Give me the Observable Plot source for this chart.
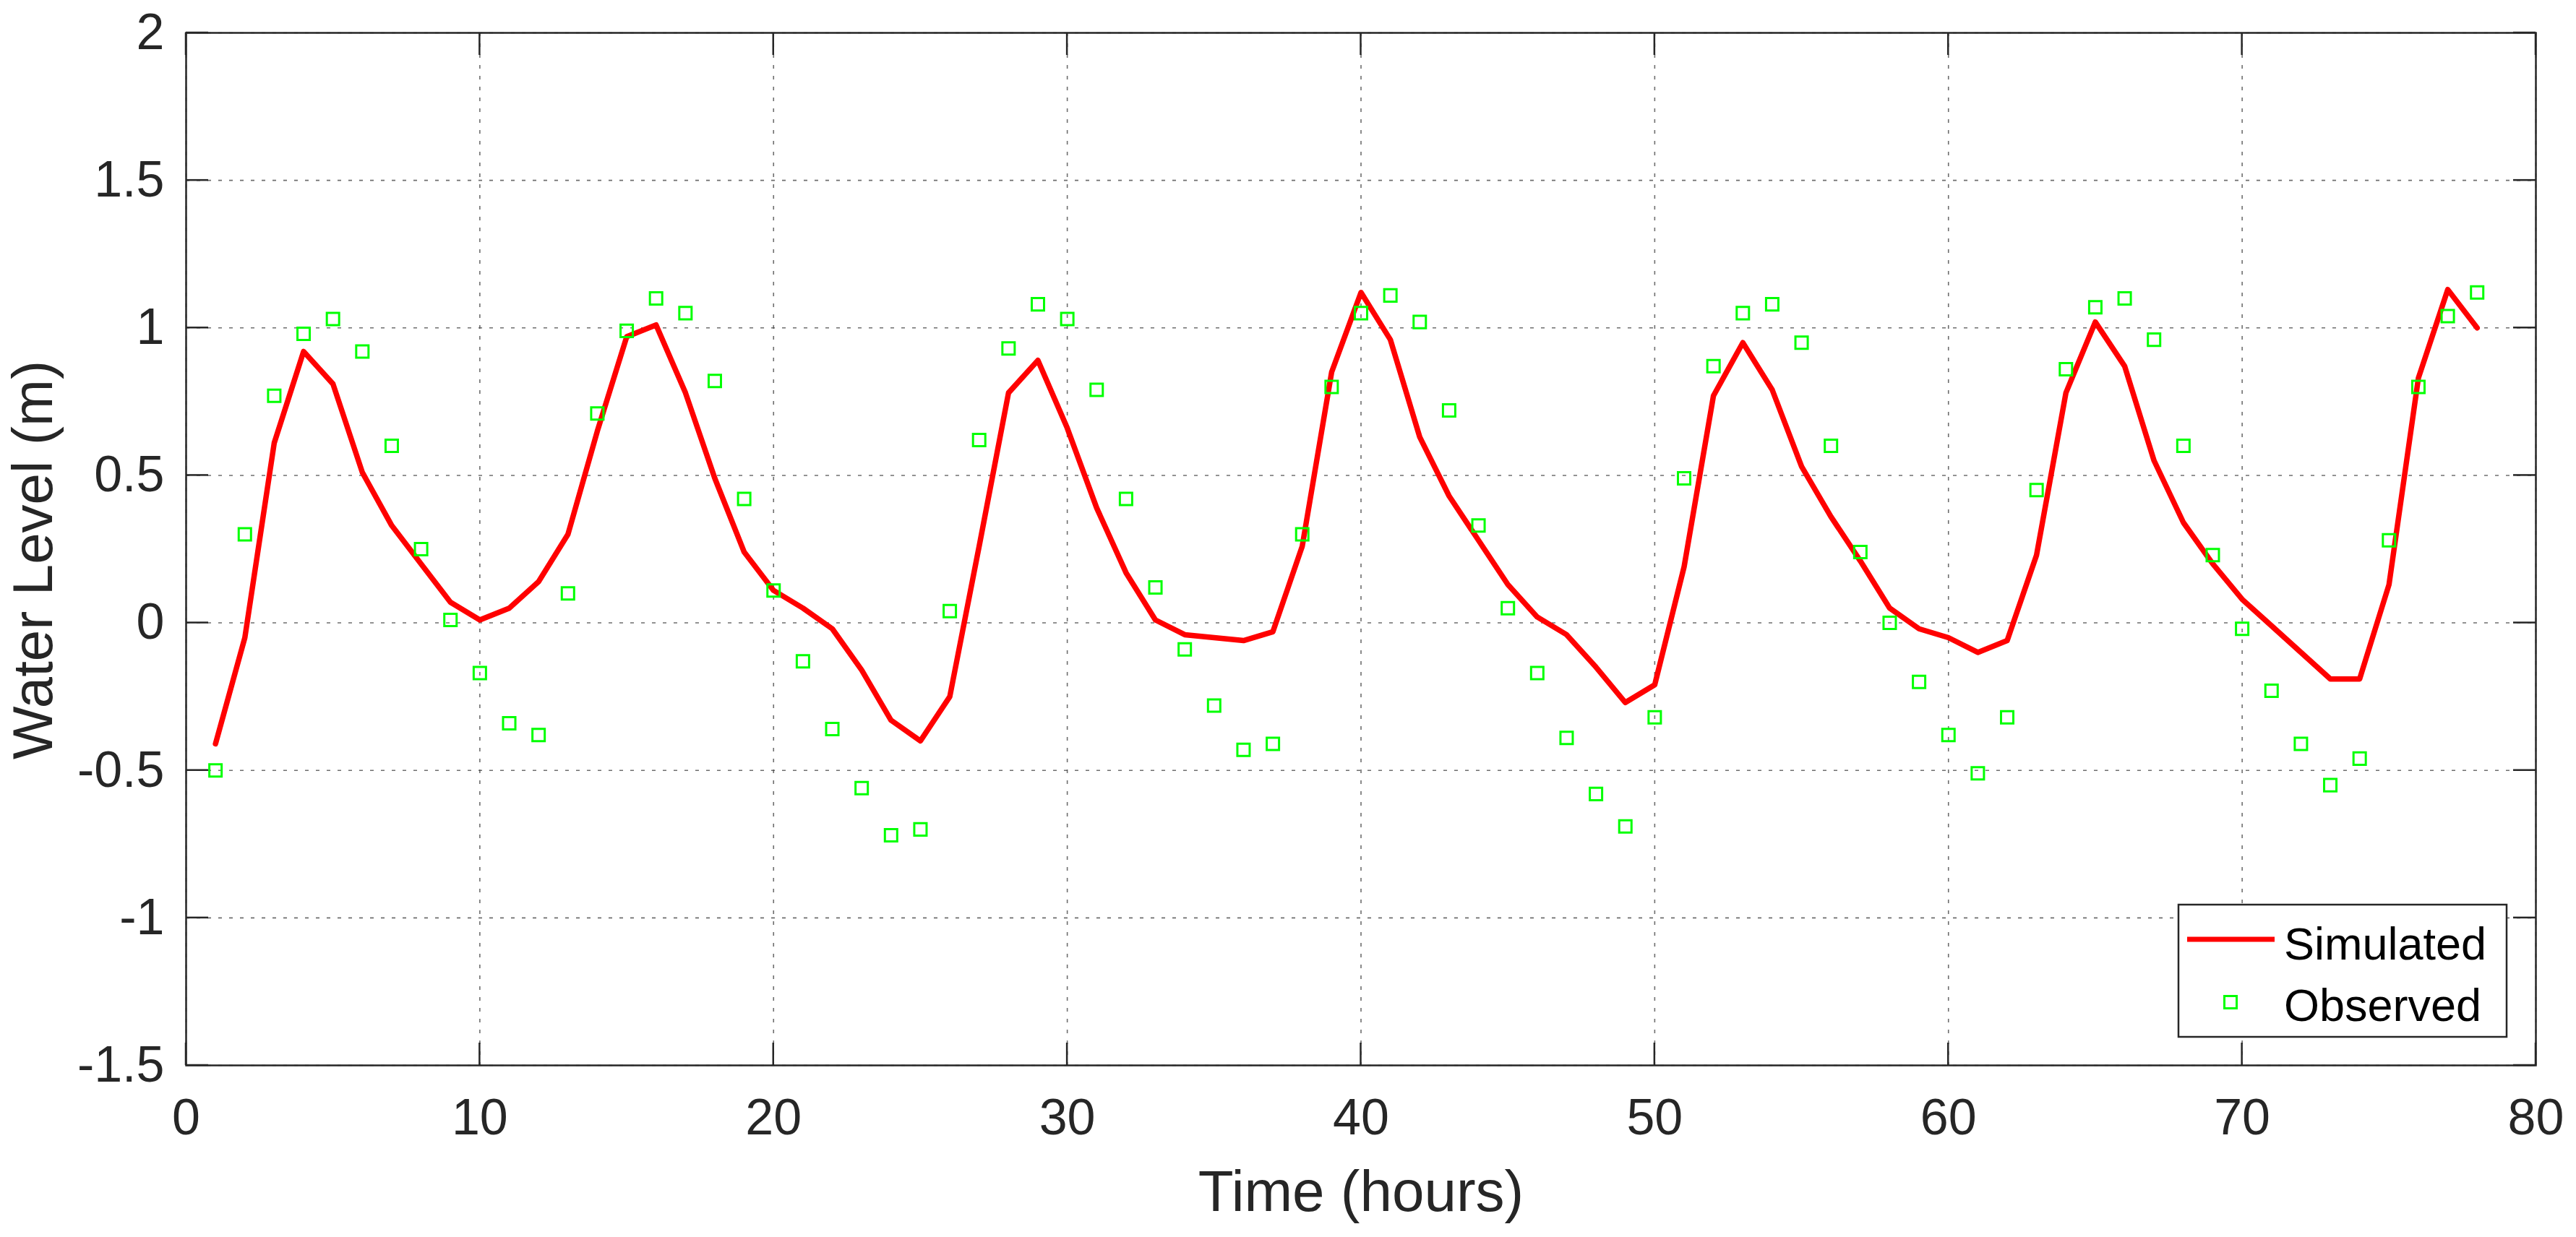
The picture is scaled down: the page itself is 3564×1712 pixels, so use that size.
<!DOCTYPE html>
<html>
<head>
<meta charset="utf-8">
<script src="https://cdn.jsdelivr.net/npm/d3@7"></script>
<script src="https://cdn.jsdelivr.net/npm/@observablehq/plot@0.6"></script>
<style>
  html, body { margin: 0; padding: 0; background: #ffffff; }
  #chart { width: 3564px; height: 1712px; }
</style>
</head>
<body>
<div id="chart"></div>
<script>
// ---- Data ----
const hours = [1,2,3,4,5,6,7,8,9,10,11,12,13,14,15,16,17,18,19,20,
  21,22,23,24,25,26,27,28,29,30,31,32,33,34,35,36,37,38,39,40,
  41,42,43,44,45,46,47,48,49,50,51,52,53,54,55,56,57,58,59,60,
  61,62,63,64,65,66,67,68,69,70,71,72,73,74,75,76,77,78];

const simulated = [-0.41,-0.05,0.61,0.92,0.81,0.51,0.33,0.20,0.07,0.01,
  0.05,0.14,0.30,0.65,0.97,1.01,0.78,0.49,0.24,0.11,
  0.05,-0.02,-0.16,-0.33,-0.40,-0.25,0.26,0.78,0.89,0.66,
  0.39,0.17,0.01,-0.04,-0.05,-0.06,-0.03,0.26,0.85,1.12,
  0.96,0.63,0.43,0.28,0.13,0.02,-0.04,-0.15,-0.27,-0.21,
  0.19,0.77,0.95,0.79,0.53,0.36,0.21,0.05,-0.02,-0.05,
  -0.10,-0.06,0.23,0.78,1.02,0.87,0.55,0.34,0.20,0.08,
  -0.01,-0.10,-0.19,-0.19,0.13,0.83,1.13,1.00];

const observed = [-0.50,0.30,0.77,0.98,1.03,0.92,0.60,0.25,0.01,-0.17,
  -0.34,-0.38,0.10,0.71,0.99,1.10,1.05,0.82,0.42,0.11,
  -0.13,-0.36,-0.56,-0.72,-0.70,0.04,0.62,0.93,1.08,1.03,
  0.79,0.42,0.12,-0.09,-0.28,-0.43,-0.41,0.30,0.80,1.05,
  1.11,1.02,0.72,0.33,0.05,-0.17,-0.39,-0.58,-0.69,-0.32,
  0.49,0.87,1.05,1.08,0.95,0.60,0.24,0.00,-0.20,-0.38,
  -0.51,-0.32,0.45,0.86,1.07,1.10,0.96,0.60,0.23,-0.02,
  -0.23,-0.41,-0.55,-0.46,0.28,0.80,1.04,1.12];

const xTicks = [0,10,20,30,40,50,60,70,80];
const yTicks = [-1.5,-1,-0.5,0,0.5,1,1.5,2];
const xDomain = [0, 80];
const yDomain = [-1.5, 2];
const xLabel = "Time (hours)";
const yLabel = "Water Level (m)";
const seriesNames = ["Simulated", "Observed"];

// ---- Styles ----
const FONT = "'Liberation Sans', Arial, Helvetica, sans-serif";
const AXIS_COLOR = "#262626";
const GRID_COLOR = "#4a4a4a";
const RED = "#ff0000";
const GREEN = "#00ff00";
const TICK = 31;

const simData = hours.map((h, i) => ({hour: h, level: simulated[i]}));
const obsData = hours.map((h, i) => ({hour: h, level: observed[i]}));

// Inner ticks on all four sides (MATLAB box style), placed through the scales
function frameTicks(index, scales, values, dims) {
  const {x, y} = scales;
  const L = dims.marginLeft, R = dims.width - dims.marginRight;
  const T = dims.marginTop, B = dims.height - dims.marginBottom;
  const g = d3.create("svg:g")
    .attr("stroke", AXIS_COLOR)
    .attr("stroke-width", 2.5)
    .attr("fill", "none");
  for (const v of xTicks) {
    const px = x(v);
    g.append("line").attr("x1", px).attr("x2", px).attr("y1", B).attr("y2", B - TICK);
    g.append("line").attr("x1", px).attr("x2", px).attr("y1", T).attr("y2", T + TICK);
  }
  for (const v of yTicks) {
    const py = y(v);
    g.append("line").attr("x1", L).attr("x2", L + TICK).attr("y1", py).attr("y2", py);
    g.append("line").attr("x1", R).attr("x2", R - TICK).attr("y1", py).attr("y2", py);
  }
  return g.node();
}

// Legend box in the lower-right corner of the frame
function legend(index, scales, values, dims) {
  const R = dims.width - dims.marginRight;
  const B = dims.height - dims.marginBottom;
  const w = 454, h = 183;
  const left = R - 40 - w, top = B - 39 - h;
  const g = d3.create("svg:g");
  g.append("rect")
    .attr("x", left).attr("y", top).attr("width", w).attr("height", h)
    .attr("fill", "#ffffff").attr("stroke", AXIS_COLOR).attr("stroke-width", 2.5);
  g.append("line")
    .attr("x1", left + 12).attr("x2", left + 133)
    .attr("y1", top + 48).attr("y2", top + 48)
    .attr("stroke", RED).attr("stroke-width", 7);
  g.append("rect")
    .attr("x", left + 72 - 8.5).attr("y", top + 135 - 8.5)
    .attr("width", 17).attr("height", 17)
    .attr("fill", "none").attr("stroke", GREEN).attr("stroke-width", 3);
  g.append("text")
    .attr("x", left + 146).attr("y", top + 76)
    .attr("text-anchor", "start")
    .attr("font-size", 63).attr("font-family", FONT).attr("fill", "#000")
    .text(seriesNames[0]);
  g.append("text")
    .attr("x", left + 146).attr("y", top + 161)
    .attr("text-anchor", "start")
    .attr("font-size", 63).attr("font-family", FONT).attr("fill", "#000")
    .text(seriesNames[1]);
  return g.node();
}

const chart = Plot.plot({
  width: 3564,
  height: 1712,
  marginLeft: 257,
  marginRight: 56,
  marginTop: 45,
  marginBottom: 238,
  style: {background: "#ffffff", fontFamily: FONT, overflow: "visible"},
  x: {domain: xDomain, nice: false},
  y: {domain: yDomain, nice: false},
  marks: [
    Plot.gridX(xTicks, {stroke: GRID_COLOR, strokeOpacity: 0.8, strokeWidth: 1.6, strokeDasharray: "5,10"}),
    Plot.gridY(yTicks, {stroke: GRID_COLOR, strokeOpacity: 0.8, strokeWidth: 1.6, strokeDasharray: "5,10"}),
    Plot.line(simData, {x: "hour", y: "level", stroke: RED, strokeWidth: 7.5, strokeLinejoin: "round"}),
    Plot.dot(obsData, {x: "hour", y: "level", symbol: "square", r: 9.6, stroke: GREEN, strokeWidth: 3, fill: "none"}),
    Plot.frame({stroke: AXIS_COLOR, strokeWidth: 2.5}),
    frameTicks,
    Plot.axisX(xTicks, {anchor: "bottom", tickSize: 0, tickPadding: 46, fontSize: 70, color: AXIS_COLOR, label: null, tickFormat: d => String(d)}),
    Plot.axisY(yTicks, {anchor: "left", tickSize: 0, tickPadding: 30, fontSize: 70, color: AXIS_COLOR, label: null, tickFormat: d => String(d)}),
    Plot.text([xLabel], {text: d => d, frameAnchor: "bottom", textAnchor: "middle", lineAnchor: "top", dy: 145, fontSize: 80, fill: AXIS_COLOR}),
    Plot.text([yLabel], {text: d => d, frameAnchor: "left", textAnchor: "middle", lineAnchor: "middle", rotate: -90, dx: -210, dy: 15, fontSize: 78, fill: AXIS_COLOR}),
    legend
  ]
});

document.getElementById("chart").appendChild(chart);
</script>
</body>
</html>
